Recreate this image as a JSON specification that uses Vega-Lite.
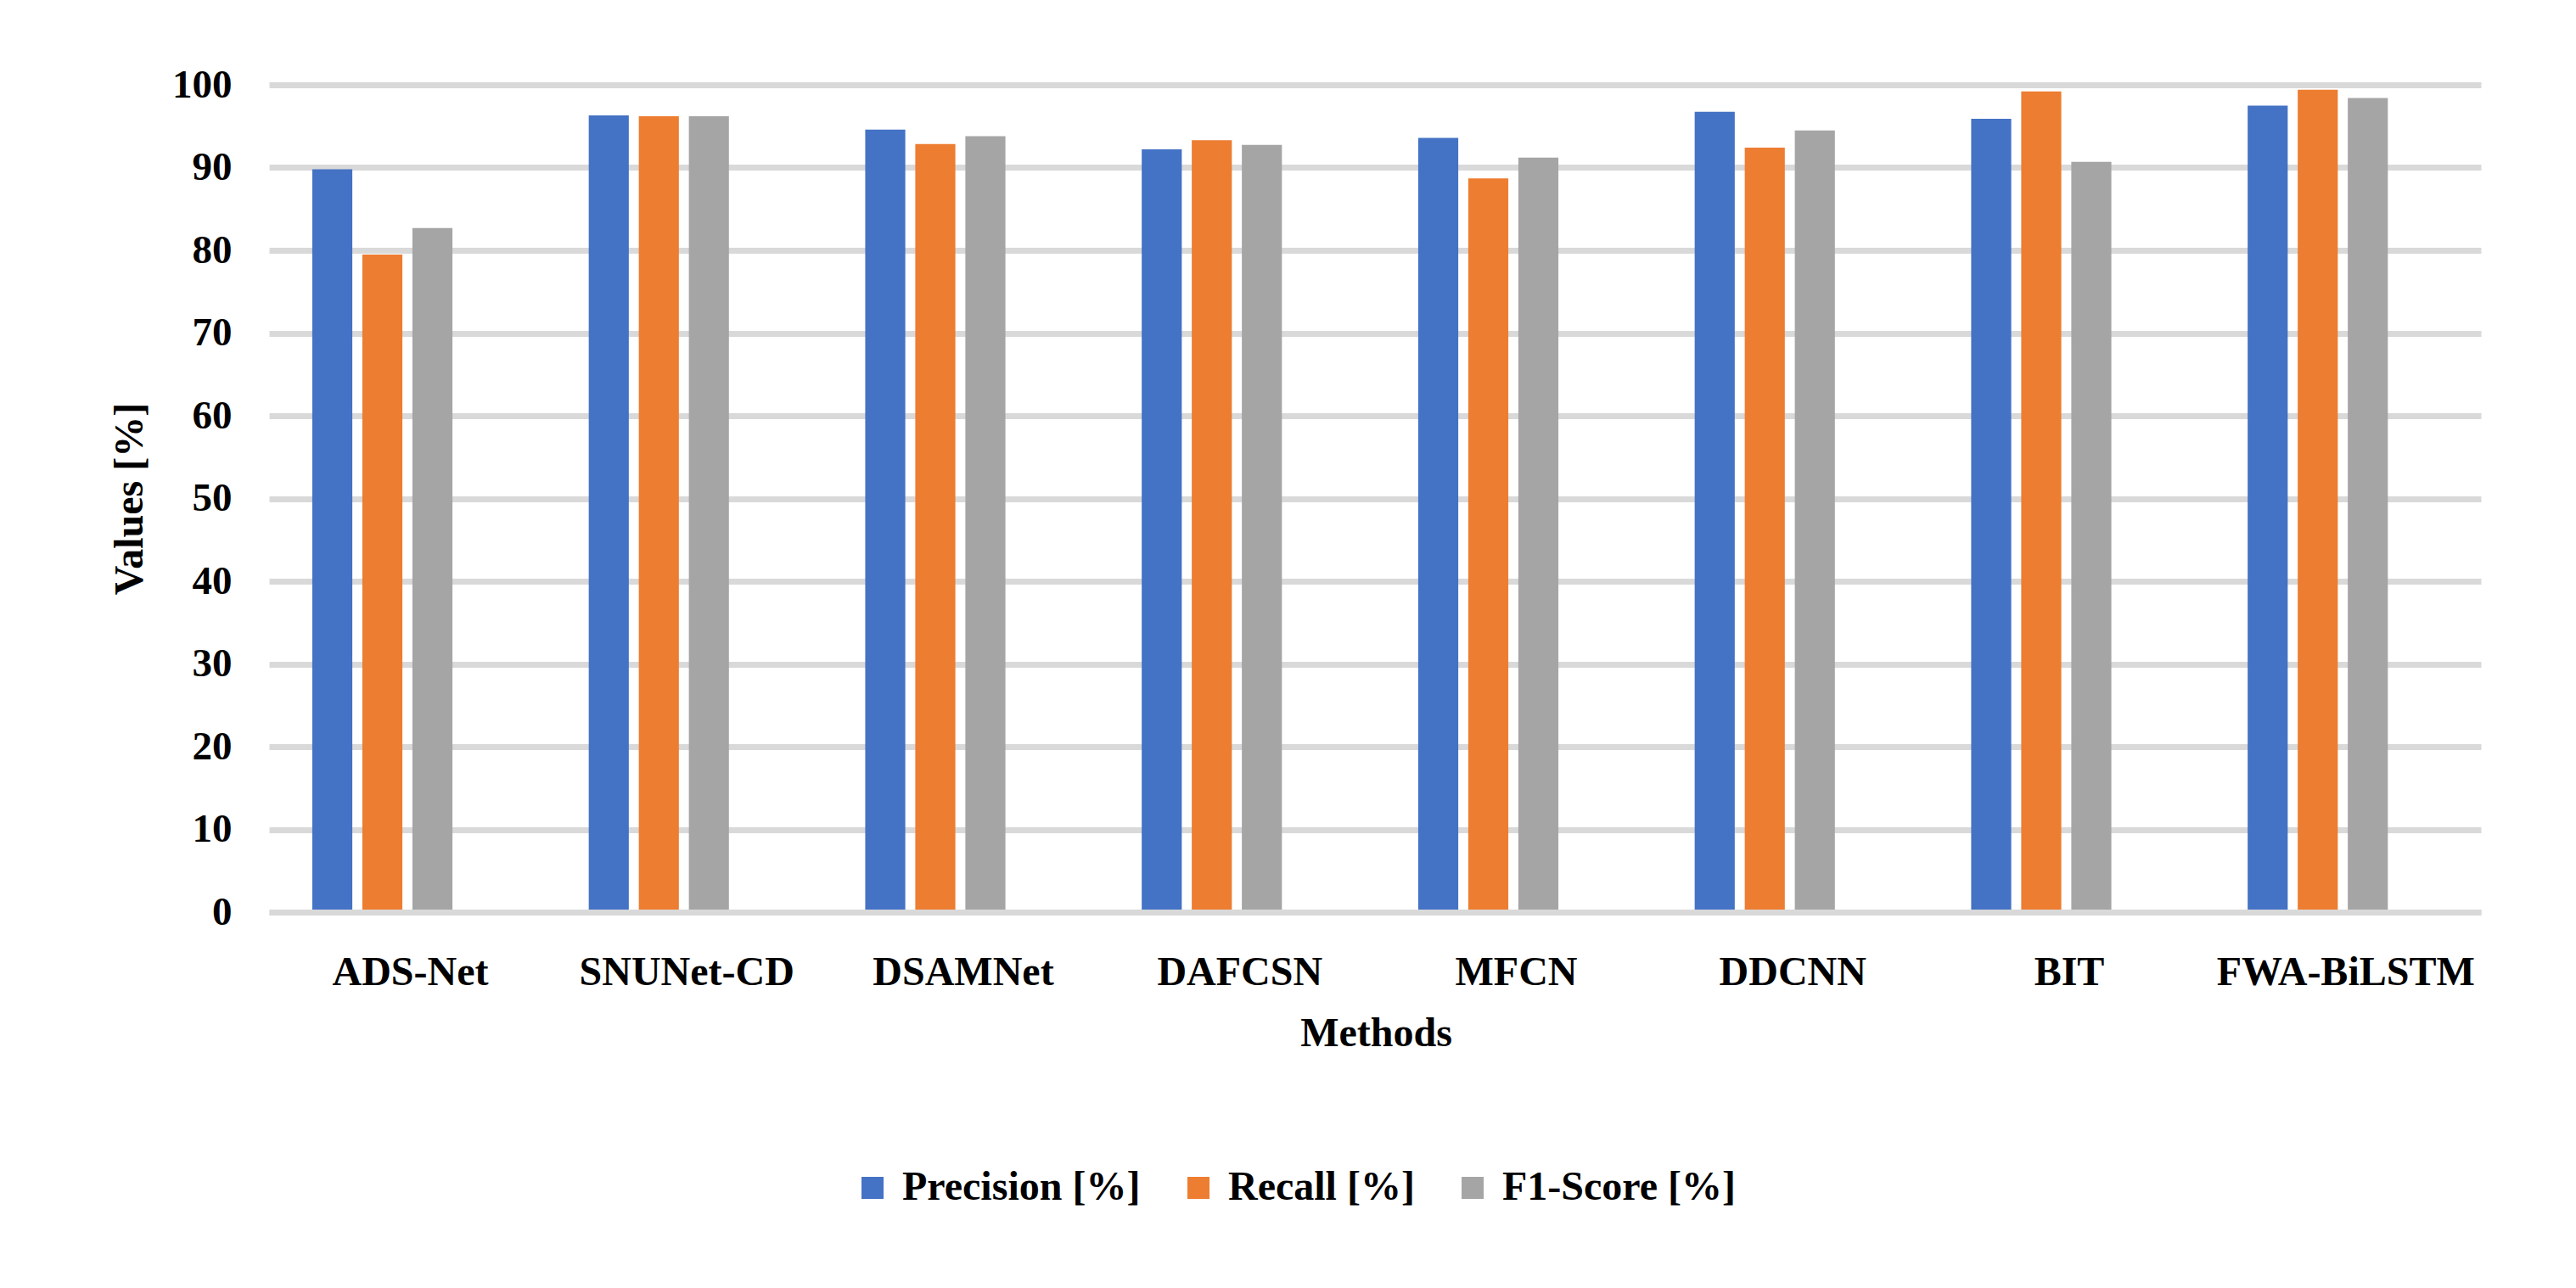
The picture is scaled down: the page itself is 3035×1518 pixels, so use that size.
{
  "$schema": "https://vega.github.io/schema/vega-lite/v6.json",
  "autosize": {"type": "none"},
  "width": 2606,
  "height": 975,
  "padding": {"left": 317, "top": 100, "right": 112, "bottom": 443},
  "background": "white",
  "config": {
    "font": "Liberation Serif",
    "view": {"stroke": null},
    "axis": {"labelFont": "Liberation Serif", "titleFont": "Liberation Serif", "labelFontWeight": "bold", "titleFontWeight": "bold", "labelColor": "#000000", "titleColor": "#000000", "labelFontSize": 47, "titleFontSize": 48}
  },
  "data": {
    "values": [
      {"method": "ADS-Net", "metric": "Precision [%]", "value": 89.8},
      {"method": "ADS-Net", "metric": "Recall [%]", "value": 79.5},
      {"method": "ADS-Net", "metric": "F1-Score [%]", "value": 82.7},
      {"method": "SNUNet-CD", "metric": "Precision [%]", "value": 96.3},
      {"method": "SNUNet-CD", "metric": "Recall [%]", "value": 96.2},
      {"method": "SNUNet-CD", "metric": "F1-Score [%]", "value": 96.2},
      {"method": "DSAMNet", "metric": "Precision [%]", "value": 94.6},
      {"method": "DSAMNet", "metric": "Recall [%]", "value": 92.85},
      {"method": "DSAMNet", "metric": "F1-Score [%]", "value": 93.8},
      {"method": "DAFCSN", "metric": "Precision [%]", "value": 92.2},
      {"method": "DAFCSN", "metric": "Recall [%]", "value": 93.3},
      {"method": "DAFCSN", "metric": "F1-Score [%]", "value": 92.75},
      {"method": "MFCN", "metric": "Precision [%]", "value": 93.6},
      {"method": "MFCN", "metric": "Recall [%]", "value": 88.7},
      {"method": "MFCN", "metric": "F1-Score [%]", "value": 91.2},
      {"method": "DDCNN", "metric": "Precision [%]", "value": 96.75},
      {"method": "DDCNN", "metric": "Recall [%]", "value": 92.4},
      {"method": "DDCNN", "metric": "F1-Score [%]", "value": 94.5},
      {"method": "BIT", "metric": "Precision [%]", "value": 95.9},
      {"method": "BIT", "metric": "Recall [%]", "value": 99.2},
      {"method": "BIT", "metric": "F1-Score [%]", "value": 90.7},
      {"method": "FWA-BiLSTM", "metric": "Precision [%]", "value": 97.5},
      {"method": "FWA-BiLSTM", "metric": "Recall [%]", "value": 99.4},
      {"method": "FWA-BiLSTM", "metric": "F1-Score [%]", "value": 98.4}
    ]
  },
  "mark": {"type": "bar"},
  "encoding": {
    "x": {
      "field": "method",
      "type": "nominal",
      "sort": null,
      "title": "Methods",
      "scale": {"paddingInner": 0.493, "paddingOuter": 0.2465, "align": 0.317},
      "axis": {
        "labelAngle": 0,
        "ticks": false,
        "tickSize": 0,
        "labelPadding": 47,
        "labelOffset": 33,
        "labelFontSize": 48,
        "labelLimit": 0,
        "domain": true,
        "domainColor": "#D9D9D9",
        "domainWidth": 7,
        "zindex": 1,
        "titlePadding": 24,
        "titleX": 1304
      }
    },
    "xOffset": {
      "field": "metric",
      "type": "nominal",
      "sort": ["Precision [%]", "Recall [%]", "F1-Score [%]"],
      "scale": {"paddingInner": 0.2, "paddingOuter": 0}
    },
    "y": {
      "field": "value",
      "type": "quantitative",
      "title": "Values [%]",
      "scale": {"domain": [0, 100], "nice": false},
      "axis": {
        "values": [0, 10, 20, 30, 40, 50, 60, 70, 80, 90, 100],
        "domain": false,
        "ticks": false,
        "tickSize": 0,
        "labelPadding": 44,
        "grid": true,
        "gridColor": "#D9D9D9",
        "gridWidth": 7,
        "titlePadding": 25
      }
    },
    "color": {
      "field": "metric",
      "type": "nominal",
      "sort": ["Precision [%]", "Recall [%]", "F1-Score [%]"],
      "scale": {"domain": ["Precision [%]", "Recall [%]", "F1-Score [%]"], "range": ["#4472C4", "#ED7D31", "#A5A5A5"]},
      "legend": {
        "title": null,
        "orient": "none",
        "direction": "horizontal",
        "legendX": 687,
        "legendY": 1276,
        "padding": 0,
        "symbolType": "square",
        "symbolSize": 676,
        "symbolStrokeWidth": 0,
        "symbolOpacity": 1,
        "labelFont": "Liberation Serif",
        "labelFontWeight": "bold",
        "labelFontSize": 48,
        "labelColor": "#000000",
        "labelOffset": 11,
        "labelLimit": 1000,
        "columnPadding": 44
      }
    }
  }
}
